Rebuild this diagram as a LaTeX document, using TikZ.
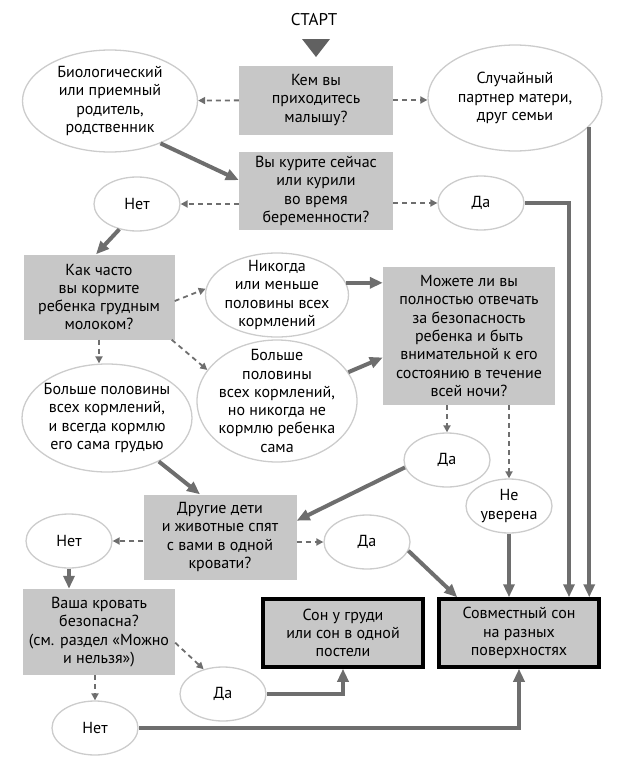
\documentclass[tikz,border=0pt]{standalone}
\usepackage{fontspec}
\setmainfont{PT Sans}
\usetikzlibrary{arrows.meta,shapes.geometric}

\begin{document}
\begin{tikzpicture}[
    x=1pt,y=-1pt,
    every node/.style={font=\fontsize{16}{18.3}\selectfont, align=center, inner sep=0pt},
    qbox/.style={fill=black!22, minimum width=154pt},
    answer/.style={ellipse, draw=black!20, line width=1.3pt, fill=white, inner xsep=-10pt, inner ysep=-14pt},
    short/.style={answer, minimum width=86pt, minimum height=54pt},
    result/.style={fill=black!22, draw=black, line width=3.5pt, minimum width=160pt, minimum height=68pt},
    flow/.style={draw=black!57, line width=4pt, -{Triangle[length=13pt,width=11pt]}},
    choice/.style={draw=black!57, line width=1.8pt, dash pattern=on 5pt off 4pt, -{Triangle[length=7pt,width=7pt]}}
]
    \useasboundingbox (0,0) rectangle (618,779);

    \node[font=\fontsize{17}{20}\selectfont] (start) at (314,20) {СТАРТ};
    \fill[black!62] (302,39) -- (330,39) -- (316,57) -- cycle;

    % questions
    \node[qbox, minimum height=69pt] (qwho) at (316,100) {Кем вы\\приходитесь\\малышу?};
    \node[qbox, minimum height=78pt] (qsmoke) at (316,191) {Вы курите сейчас\\или курили\\во время\\беременности?};
    \node[qbox, minimum width=151pt, minimum height=85pt] (qfeed) at (99,297) {Как часто\\вы кормите\\ребенка грудным\\молоком?};
    \node[qbox, minimum width=172pt, minimum height=138pt] (qsafe) at (469,336) {Можете ли вы\\полностью отвечать\\за безопасность\\ребенка и быть\\внимательной к его\\состоянию в течение\\всей ночи?};
    \node[qbox, minimum width=153pt, minimum height=85pt] (qother) at (220,537) {Другие дети\\и животные спят\\с вами в одной\\кровати?};
    \node[qbox, minimum width=152pt, minimum height=86pt] (qbed) at (99,632) {Ваша кровать\\безопасна?\\(см. раздел «Можно\\и нельзя»)};

    % answers
    \node[answer, minimum width=175pt, minimum height=102pt] (aparent) at (110,101) {Биологический\\или приемный\\родитель,\\родственник};
    \node[answer, minimum width=174pt, minimum height=106pt] (apartner) at (515,98) {Случайный\\партнер матери,\\друг семьи};
    \node[answer, minimum width=143pt, minimum height=84pt] (anever) at (277,295) {Никогда\\или меньше\\половины всех\\кормлений};
    \node[answer, minimum width=170pt, minimum height=108pt] (aalways) at (107,418) {Больше половины\\всех кормлений,\\и всегда кормлю\\его сама грудью};
    \node[answer, minimum width=160pt, minimum height=122pt] (amore) at (277,401) {Больше\\половины\\всех кормлений,\\но никогда не\\кормлю ребенка\\сама};
    \node[short] (aunsure) at (509,506) {Не\\уверена};
    \foreach \name/\x/\y/\lab in {asmokeno/137/204/Нет, asmokeyes/481/203/Да, asafeyes/447/460/Да,
        aotherno/69/541/Нет, aotheryes/367/542/Да, abedyes/223/694/Да, abedno/95/728/Нет} {
        \node[short] (\name) at (\x,\y) {\lab};
    }

    % results
    \node[result] (rbreast) at (343,633) {Сон у груди\\или сон в одной\\постели};
    \node[result] (rsurface) at (519,633) {Совместный сон\\на разных\\поверхностях};

    % dashed choices
    \draw[choice] (qwho) -- (aparent);
    \draw[choice] (qwho) -- (qwho -| apartner.west);
    \draw[choice] (qsmoke.west |- asmokeno) -- (asmokeno.east);
    \draw[choice] (qsmoke.east |- asmokeyes) -- (asmokeyes.west);
    \draw[choice] ([yshift=-4pt]qfeed.east) -- (anever.175);
    \draw[choice] ([xshift=-3pt]qfeed.south east) -- (amore.156);
    \draw[choice] (qfeed.south) -- (qfeed.south |- aalways.north);
    \draw[choice] (qsafe.south -| asafeyes) -- (asafeyes.north);
    \draw[choice] (qsafe.south -| aunsure) -- (aunsure.north);
    \draw[choice] (qother.west |- aotherno) -- (aotherno.east);
    \draw[choice] (qother.east |- aotheryes) -- (aotheryes.west);
    \draw[choice] (qbed.south -| abedno) -- (abedno.north);
    \draw[choice] (qbed.-8) -- (abedyes.128);

    % solid flow
    \draw[flow] (aparent.-40) -- (qsmoke.172);
    \draw[flow] (asmokeno.-125) -- ([xshift=-3pt]qfeed.north);
    \draw[flow] (anever.10) -- (anever.10 -| qsafe.west);
    \draw[flow] (amore.22) -- (qsafe.194);
    \draw[flow] (aalways.-40) -- ([xshift=-20pt]qother.north);
    \draw[flow] (asafeyes.190) -- (qother.12);
    \draw[flow] (aotherno.south) -- (aotherno.south |- qbed.north);
    \draw[flow] (aotheryes.-12) -- ([xshift=20pt]rsurface.north west);
    \draw[flow] (aunsure.south) -- (aunsure.south |- rsurface.north);
    \draw[flow] (asmokeyes.east) -| ([xshift=50pt]rsurface.north);
    \draw[flow] (apartner.-21) -- (apartner.-21 |- rsurface.north);
    \draw[flow] (abedyes.east) -| (rbreast.south);
    \draw[flow] (abedno.east) -| (rsurface.south);
\end{tikzpicture}
\end{document}
